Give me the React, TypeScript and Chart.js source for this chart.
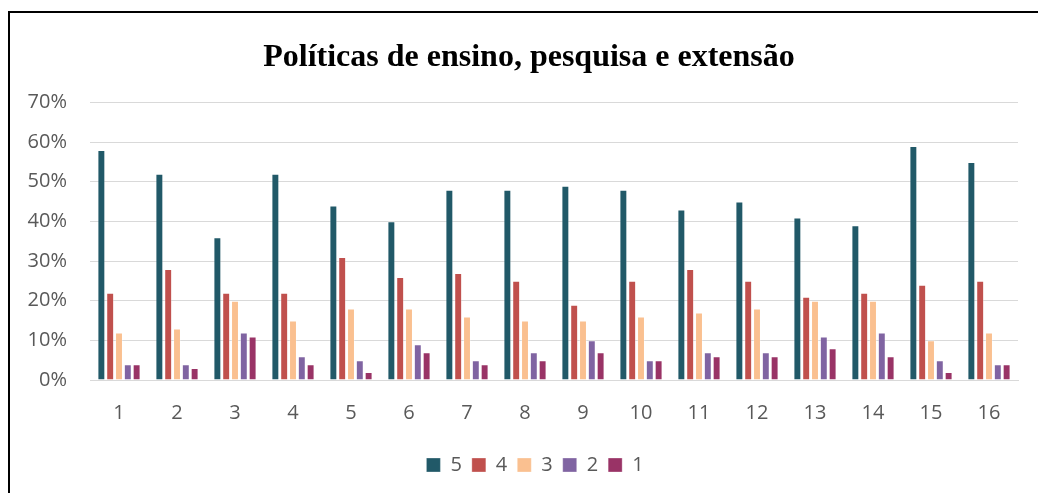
import React, { useEffect, useRef } from "react";
import { Chart, registerables } from "chart.js";

Chart.register(...registerables);

const categories = ["1", "2", "3", "4", "5", "6", "7", "8", "9", "10", "11", "12", "13", "14", "15", "16"];
const series5 = [58, 52, 36, 52, 44, 40, 48, 48, 49, 48, 43, 45, 41, 39, 59, 55];
const series4 = [22, 28, 22, 22, 31, 26, 27, 25, 19, 25, 28, 25, 21, 22, 24, 25];
const series3 = [12, 13, 20, 15, 18, 18, 16, 15, 15, 16, 17, 18, 20, 20, 10, 12];
const series2 = [4, 4, 12, 6, 5, 9, 5, 7, 10, 5, 7, 7, 11, 12, 5, 4];
const series1 = [4, 3, 11, 4, 2, 7, 4, 5, 7, 5, 6, 6, 8, 6, 2, 4];
const yTicks = [0, 10, 20, 30, 40, 50, 60, 70];

const FONT = "'Open Sans', 'Noto Sans', sans-serif";
const TEXT = "#595959";

// Shift title and legend boxes horizontally to centre them as in the reference
const centerShift = {
  id: "centerShift",
  afterLayout(chart: any) {
    if (chart.titleBlock) chart.titleBlock.left = 30;
    if (chart.legend) chart.legend.left = 42;
  },
};

export default function App() {
  const ref = useRef<HTMLCanvasElement | null>(null);

  useEffect(() => {
    if (!ref.current) return;
    const mk = (label: string, data: number[], color: string) => ({
      label,
      data,
      backgroundColor: color,
      borderColor: "rgba(255,255,255,0.3)",
      borderWidth: 1,
      categoryPercentage: 0.76,
      barPercentage: 0.9,
    });
    const chart = new Chart(ref.current, {
      type: "bar",
      data: {
        labels: categories,
        datasets: [
          mk("5", series5, "#215968"),
          mk("4", series4, "#C0504D"),
          mk("3", series3, "#FAC090"),
          mk("2", series2, "#8064A2"),
          mk("1", series1, "#993366"),
        ],
      },
      plugins: [centerShift],
      options: {
        animation: false,
        responsive: false,
        maintainAspectRatio: false,
        layout: { padding: { top: 14, right: 20, bottom: 8, left: 0 } },
        plugins: {
          title: {
            display: true,
            text: "Políticas de ensino, pesquisa e extensão",
            color: "#000000",
            font: { family: "'Liberation Serif', 'Times New Roman', serif", size: 32, weight: "bold" },
            padding: { top: 12, bottom: 25 },
          },
          legend: {
            position: "bottom",
            labels: {
              color: TEXT,
              font: { family: FONT, size: 20 },
              boxWidth: 14,
              boxHeight: 14,
              padding: 10,
            },
          },
          tooltip: { enabled: false },
        },
        scales: {
          x: {
            grid: { display: false, drawTicks: false },
            border: { display: true, color: "#d9d9d9", width: 1 },
            ticks: { color: TEXT, font: { family: FONT, size: 20 }, padding: 21 },
            afterFit: (scale: any) => {
              scale.height = 65;
            },
          },
          y: {
            min: 0,
            max: 70,
            afterBuildTicks: (scale: any) => {
              scale.ticks = yTicks.map((v) => ({ value: v }));
            },
            afterFit: (scale: any) => {
              scale.width = 80;
            },
            grid: { color: "#d9d9d9", lineWidth: 1, drawTicks: false },
            border: { display: false },
            ticks: {
              color: TEXT,
              font: { family: FONT, size: 20 },
              padding: 23,
              callback: (v: any) => v + "%",
            },
          },
        },
      },
    });
    return () => chart.destroy();
  }, []);

  return (
    <div
      style={{
        position: "fixed",
        left: 8,
        top: 11,
        width: 1030,
        height: 482,
        borderTop: "2px solid #000",
        borderLeft: "2px solid #000",
        background: "#fff",
      }}
    >
      <canvas ref={ref} width={1028} height={480} style={{ display: "block", width: 1028, height: 480 }} />
    </div>
  );
}
